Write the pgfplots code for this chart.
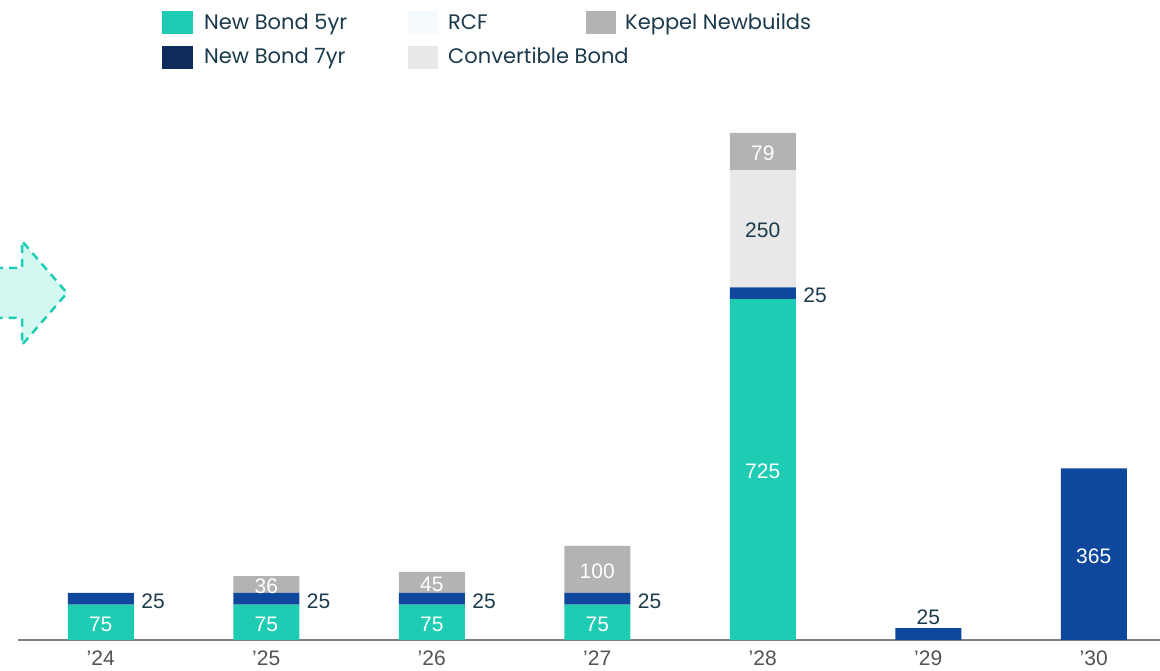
\documentclass[border=0pt]{standalone}
\usepackage{pgfplots}
\pgfplotsset{compat=1.18}
\usepackage{fontspec}
\setmainfont{Liberation Sans}
\newfontfamily\poppins{Poppins}
\definecolor{teal5}{HTML}{1DCCB2}
\definecolor{blue7}{HTML}{0E479C}
\definecolor{navy7}{HTML}{0E2B5E}
\definecolor{keppel}{HTML}{B3B3B3}
\definecolor{conv}{HTML}{E8E8E8}
\definecolor{rcf}{HTML}{F5FAFE}
\definecolor{txt}{HTML}{1B3A4B}
\definecolor{arrowfill}{HTML}{D3F8F2}
\pgfplotsset{
  base/.style={
    at={(18pt,31pt)}, anchor=south west,
    x=165.5pt, y=0.47pt,
    xmin=-0.5, xmax=6.45, ymin=0, ymax=1150,
    clip=false,
  }
}
\begin{document}
\begin{tikzpicture}[x=1pt,y=1pt]
\useasboundingbox (0,0) rectangle (1160,671);
% decoration arrow
\path[fill=arrowfill] (-5,403) -- (22,403) -- (22,430) -- (67,378) -- (22,326) -- (22,353) -- (-5,353) -- cycle;
\draw[teal5, line width=2.5pt, dash pattern=on 8pt off 6pt] (-5,403) -- (22,403) -- (22,430) -- (67,378) -- (22,326) -- (22,353) -- (-5,353);

\begin{axis}[base,
  ybar stacked, bar width=66pt,
  axis x line*=bottom, hide y axis,
  axis line style={-, draw=gray, line width=2pt},
  xtick={0,...,6}, xticklabels={’24,’25,’26,’27,’28,’29,’30},
  major tick length=0pt,
  xticklabel style={font=\fontsize{21}{25}\selectfont, text=darkgray!90, anchor=base, yshift=-26pt},
]
\addplot[fill=teal5, draw=none] coordinates {(0,75)(1,75)(2,75)(3,75)(4,725)(5,0)(6,0)};
\addplot[fill=blue7, draw=none] coordinates {(0,25)(1,25)(2,25)(3,25)(4,25)(5,25)(6,365)};
\addplot[fill=conv, draw=none] coordinates {(0,0)(1,0)(2,0)(3,0)(4,250)(5,0)(6,0)};
\addplot[fill=keppel, draw=none] coordinates {(0,0)(1,36)(2,45)(3,100)(4,79)(5,0)(6,0)};
\end{axis}

\begin{axis}[base, hide axis,
  every node near coord/.append style={font=\fontsize{21}{25}\selectfont},
]
\addplot[draw=none, nodes near coords, point meta=explicit symbolic,
  nodes near coords align=center,
  every node near coord/.append style={text=white, yshift=-2pt}] table[meta=l] {
x y l
0 37.5 75
1 37.5 75
2 37.5 75
3 37.5 75
4 362.5 725
1 118 36
2 122.5 45
3 150 100
4 1039.5 79
6 182.5 365
};
\addplot[draw=none, nodes near coords, point meta=explicit symbolic,
  nodes near coords align=center,
  every node near coord/.append style={text=txt, yshift=-2pt}] table[meta=l] {
x y l
4 875 250
};
\addplot[draw=none, nodes near coords, point meta=explicit symbolic,
  nodes near coords align=west,
  every node near coord/.append style={text=txt, xshift=4pt, yshift=-2pt}] table[meta=l] {
x y l
0.2 87.5 25
1.2 87.5 25
2.2 87.5 25
3.2 87.5 25
4.2 737.5 25
};
\addplot[draw=none, nodes near coords, point meta=explicit symbolic,
  nodes near coords align=south,
  every node near coord/.append style={text=txt}] table[meta=l] {
x y l
5 25 25
};
\end{axis}

% legend
\begin{scope}[every node/.style={anchor=base west, inner sep=0pt, font=\poppins\fontsize{21}{25}\selectfont, text=txt}]
\fill[teal5] (162,637) rectangle (193,660);
\node at (204,641) {New Bond 5yr};
\fill[rcf] (408,637) rectangle (438,660);
\node at (448,641) {RCF};
\fill[keppel] (586,637) rectangle (616,660);
\node at (625,641) {Keppel Newbuilds};
\fill[navy7] (162,602) rectangle (193,625);
\node at (204,607) {New Bond 7yr};
\fill[conv] (408,602) rectangle (438,625);
\node at (448,607) {Convertible Bond};
\end{scope}
\end{tikzpicture}
\end{document}
